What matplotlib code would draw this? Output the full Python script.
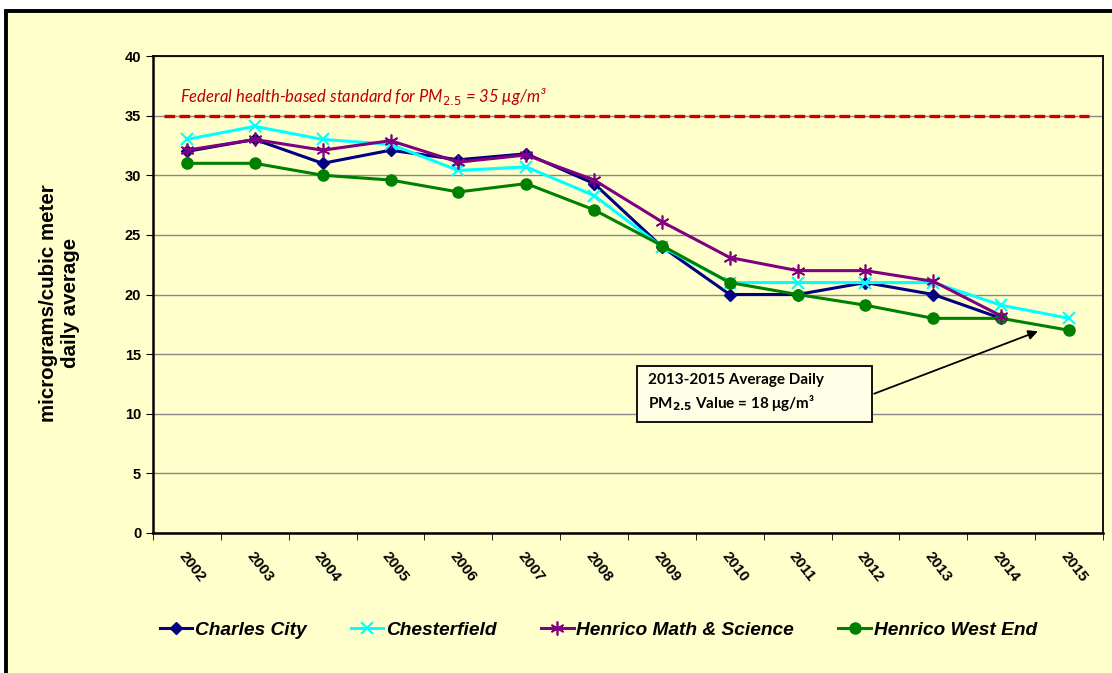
import numpy as np
import matplotlib
matplotlib.use("Agg")
import matplotlib.pyplot as plt
from matplotlib.patches import Rectangle

# 数据
years = ['2002', '2003', '2004', '2005', '2006', '2007', '2008',
         '2009', '2010', '2011', '2012', '2013', '2014', '2015']
charles_city = [32, 33, 31, 32.1, 31.3, 31.8, 29.3, 24, 20, 20, 21, 20, 18, np.nan]
chesterfield = [33, 34.1, 33, 32.6, 30.4, 30.7, 28.3, 24, 21, 21, 21, 21, 19.1, 18]
henrico_ms = [32.1, 33, 32.1, 32.9, 31.1, 31.7, 29.6, 26.1, 23.1, 22, 22, 21.1, 18.2, np.nan]
henrico_we = [31, 31, 30, 29.6, 28.6, 29.3, 27.1, 24.1, 21, 20, 19.1, 18, 18, 17]
standard = 35

bg = '#FFFFCC'
W, H = 1112, 673
fig = plt.figure(figsize=(W / 100, H / 100), dpi=100, facecolor='white')
fig.add_artist(Rectangle((6 / W, -0.1), 1.2, 1 - 11 / H + 0.1, transform=fig.transFigure,
                         facecolor=bg, edgecolor='black', linewidth=2.8, zorder=0))

ax = fig.add_axes([153 / W, 1 - 533 / H, (1103 - 153) / W, (533 - 56) / H])
ax.set_facecolor(bg)
x = np.arange(len(years))

ax.plot(x, charles_city, color='#000080', lw=2.2, marker='D', ms=6, label='Charles City', zorder=3)
ax.plot(x, chesterfield, color='#00FFFF', lw=2.2, marker='x', ms=9, mew=1.5, label='Chesterfield', zorder=3)
ax.plot(x, henrico_ms, color='#800080', lw=2.2, marker=(6, 2, 0), ms=10, mew=1.2, label='Henrico Math & Science', zorder=4)
ax.plot(x, henrico_we, color='#008000', lw=2.2, marker='o', ms=8, label='Henrico West End', zorder=3)

# 联邦标准线
ax.axhline(standard, xmin=0.012, xmax=0.985, color='#CC0000', lw=2.4, dashes=(3.2, 1.3), zorder=2)
ax.text(-0.1, 36.6, 'Federal health-based standard for PM$_{\\mathit{2.5}}$ = 35 μg/m³',
        color='#C00000', fontsize=12, style='italic', family=['Lato', 'DejaVu Sans'],
        va='center', ha='left')

ax.set_xlim(-0.5, len(years) - 0.5)
ax.set_ylim(0, 40)
ax.set_yticks(np.arange(0, 41, 5))
ax.grid(axis='y', color='#888888', lw=1)
ax.set_axisbelow(True)
ax.set_xticks(x)
ax.set_xticklabels(years, rotation=-52, ha='left', va='top', rotation_mode='anchor',
                   fontsize=11, fontweight='bold', family='Liberation Sans')
ax.set_xticks(np.arange(-0.5, len(years), 1), minor=True)
ax.tick_params(axis='x', which='major', length=0, pad=12)
ax.tick_params(axis='x', which='minor', length=5, direction='out')
ax.tick_params(axis='y', length=5, direction='out', labelsize=10.5)
for lab in ax.get_yticklabels():
    lab.set_fontweight('bold')
    lab.set_family('Liberation Sans')
for s in ax.spines.values():
    s.set_color('black')
    s.set_linewidth(1.3)
ax.spines['left'].set_linewidth(1.8)
ax.spines['bottom'].set_linewidth(1.8)

fig.text(60 / W, 1 - 303 / H, 'micrograms/cubic meter\ndaily average', rotation=90,
         ha='center', va='center', multialignment='center', fontsize=14.8,
         fontweight='bold', family='Liberation Sans', linespacing=1.2)

# 注释框
ax.add_patch(Rectangle((6.64, 9.31), 3.45, 4.7, facecolor='#FFFFE8', edgecolor='black', lw=1.3, zorder=5))
ax.text(6.79, 11.75, '2013-2015 Average Daily\nPM$_{\\mathbf{2.5}}$ Value = 18 μg/m³', fontsize=11,
        fontweight='bold', family=['Lato', 'DejaVu Sans'], va='center', ha='left',
        linespacing=1.35, zorder=6)
ax.annotate('', xy=(12.58, 17.0), xytext=(10.09, 11.6),
            arrowprops=dict(arrowstyle='-|>', color='black', lw=1.3, mutation_scale=14), zorder=6)

leg = fig.legend(loc='center', bbox_to_anchor=(0.538, 1 - 630 / H), ncol=4, frameon=False,
                 handlelength=1.7, handletextpad=0.15, columnspacing=2.3,
                 prop=dict(family='Liberation Sans', weight='bold', style='italic', size=13.8))

fig.savefig('out.png', dpi=100, facecolor=fig.get_facecolor())
